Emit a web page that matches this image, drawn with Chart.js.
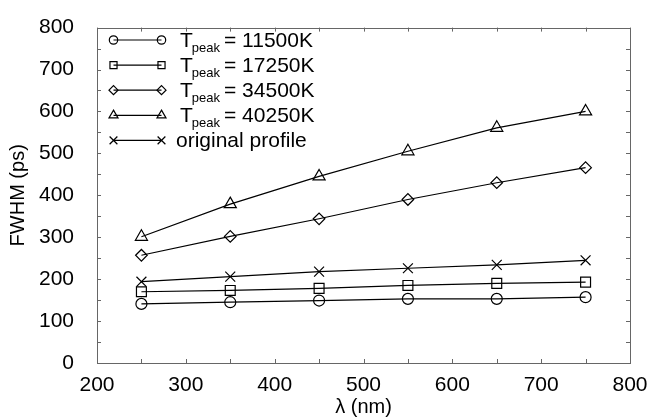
<!DOCTYPE html>
<html>
<head>
<meta charset="utf-8">
<script src="https://cdn.jsdelivr.net/npm/chart.js@4/dist/chart.umd.min.js"></script>
<style>
html,body{margin:0;padding:0;background:#fff;}
#wrap{width:651px;height:420px;position:relative;}
</style>
</head>
<body>
<div id="wrap"><canvas id="c" width="651" height="420"></canvas></div>
<script>
// ---- data ----
const wavelengths = [250, 350, 450, 550, 650, 750];
const fwhm11500 = [141, 145, 149, 153, 153, 157];
const fwhm17250 = [170, 173, 178, 185, 190, 193];
const fwhm34500 = [257, 302, 344, 390, 430, 466];
const fwhm40250 = [301, 379, 445, 505, 561, 600];
const fwhmOriginal = [194, 206, 218, 226, 234, 245];
const peakTemps = ['11500K', '17250K', '34500K', '40250K'];
const originalLabel = 'original profile';
const xTitle = 'λ (nm)';
const yTitle = 'FWHM (ps)';
const xRange = [200, 800];
const yRange = [0, 800];

const FONT = "'Liberation Sans', Arial, Helvetica, sans-serif";

function pts(ys){ return wavelengths.map((x,i)=>({x:x,y:ys[i]})); }

const styles = [
  {pointStyle:'circle', radius:5.5, legendRadius:4.2},
  {pointStyle:'rect', radius:7, legendRadius:5},
  {pointStyle:'rectRot', radius:5.8, legendRadius:4.5},
  {pointStyle:'triangle', radius:7, legendRadius:5.2},
  {pointStyle:'crossRot', radius:7, legendRadius:5.5}
];
const series = [fwhm11500, fwhm17250, fwhm34500, fwhm40250, fwhmOriginal];
const labels = peakTemps.map(t => 'T_peak = ' + t).concat([originalLabel]);

const datasets = series.map((s,i)=>({
  label: labels[i],
  data: pts(s),
  borderColor: '#000',
  borderWidth: 1.2,
  pointStyle: styles[i].pointStyle,
  pointRadius: styles[i].radius,
  pointHoverRadius: styles[i].radius,
  pointBorderColor: '#000',
  pointBackgroundColor: 'rgba(0,0,0,0)',
  pointBorderWidth: 1.2,
  fill: false,
  tension: 0
}));

const frameTicks = {
  id: 'frameTicks',
  afterDraw(chart){
    const ctx = chart.ctx;
    const a = chart.chartArea;
    const xs = chart.scales.x, ys = chart.scales.y;
    ctx.save();
    ctx.strokeStyle = '#666';
    ctx.lineWidth = 1;
    ctx.strokeRect(Math.round(a.left)+0.5, Math.round(a.top)+0.5, Math.round(a.right-a.left), Math.round(a.bottom-a.top));
    const L = 4;
    ctx.beginPath();
    xs.ticks.forEach(t=>{
      const px = Math.round(xs.getPixelForValue(t.value))+0.5;
      ctx.moveTo(px, a.bottom); ctx.lineTo(px, a.bottom - L);
      ctx.moveTo(px, a.top); ctx.lineTo(px, a.top + L);
    });
    ys.ticks.forEach(t=>{
      const py = Math.round(ys.getPixelForValue(t.value))+0.5;
      ctx.moveTo(a.left, py); ctx.lineTo(a.left + L, py);
      ctx.moveTo(a.right, py); ctx.lineTo(a.right - L, py);
    });
    ctx.stroke();
    ctx.restore();
  }
};

const customLegend = {
  id: 'customLegend',
  afterDatasetsDraw(chart){
    const ctx = chart.ctx;
    ctx.save();
    const x0 = 113.5, x1 = 161.5, tx = 180;
    const y0 = 40, dy = 25.1;
    chart.data.datasets.forEach((ds,i)=>{
      const y = y0 + i*dy;
      ctx.strokeStyle = '#000';
      ctx.lineWidth = 1.2;
      ctx.beginPath(); ctx.moveTo(x0, y); ctx.lineTo(x1, y); ctx.stroke();
      const opts = {pointStyle: ds.pointStyle, radius: styles[i].legendRadius, rotation: 0, borderWidth: 1.2};
      ctx.fillStyle = 'rgba(0,0,0,0)';
      ctx.strokeStyle = '#000';
      ctx.lineWidth = 1.2;
      Chart.helpers.drawPoint(ctx, opts, x0, y);
      Chart.helpers.drawPoint(ctx, opts, x1, y);
      ctx.fillStyle = '#000';
      ctx.textBaseline = 'alphabetic';
      ctx.textAlign = 'left';
      const base = y + 6.5;
      if (i < peakTemps.length) {
        ctx.font = '21px ' + FONT;
        ctx.fillText('T', tx, base);
        let x = tx + ctx.measureText('T').width - 1;
        ctx.font = '13px ' + FONT;
        ctx.fillText('peak', x, base + 5.5);
        x += ctx.measureText('peak').width + 4;
        ctx.font = '21px ' + FONT;
        ctx.fillText('= ' + peakTemps[i], x, base);
      } else {
        ctx.font = '21px ' + FONT;
        ctx.fillText(ds.label, tx - 4, base);
      }
    });
    ctx.restore();
  }
};

new Chart(document.getElementById('c'), {
  type: 'line',
  data: { datasets: datasets },
  options: {
    responsive: false,
    animation: false,
    devicePixelRatio: 1,
    layout: { padding: { left: 0, right: 21, top: 20, bottom: 0 } },
    plugins: { legend: { display: false }, tooltip: { enabled: false } },
    elements: { line: { borderJoinStyle: 'miter' } },
    scales: {
      x: {
        type: 'linear',
        min: xRange[0], max: xRange[1],
        grid: { display: false },
        border: { display: false },
        ticks: {
          stepSize: 50,
          color: '#000',
          font: { family: FONT, size: 21 },
          padding: 2,
          maxRotation: 0,
          autoSkip: false,
          callback: v => (v % 100 === 0 ? String(v) : '')
        },
        title: { display: true, text: xTitle, color: '#000', font: { family: FONT, size: 20 }, padding: { top: 0, bottom: 1 } },
        afterFit: s => { s.height = 57; }
      },
      y: {
        type: 'linear',
        min: yRange[0], max: yRange[1],
        grid: { display: false },
        border: { display: false },
        ticks: {
          stepSize: 50,
          color: '#000',
          font: { family: FONT, size: 21 },
          padding: 15,
          autoSkip: false,
          callback: v => (v % 100 === 0 ? String(v) : '')
        },
        title: { display: true, text: yTitle, color: '#000', font: { family: FONT, size: 20 }, padding: { top: 6, bottom: 0 } },
        afterFit: s => { s.width = 97; }
      }
    }
  },
  plugins: [frameTicks, customLegend]
});
</script>
</body>
</html>
